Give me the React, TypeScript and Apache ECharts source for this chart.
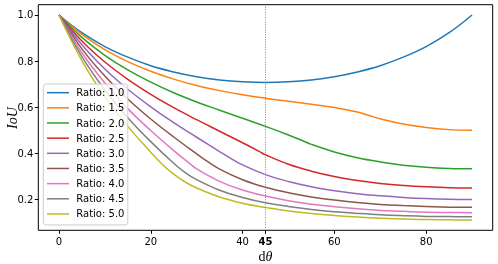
import React, { useEffect, useRef } from 'react';
import * as echarts from 'echarts';

const ratioNames = ['Ratio: 1.0', 'Ratio: 1.5', 'Ratio: 2.0', 'Ratio: 2.5', 'Ratio: 3.0', 'Ratio: 3.5', 'Ratio: 4.0', 'Ratio: 4.5', 'Ratio: 5.0'];
const colors = ['#1f77b4', '#ff7f0e', '#2ca02c', '#d62728', '#9467bd', '#8c564b', '#e377c2', '#7f7f7f', '#bcbd22'];

const ratio10 = [[0, 1], [5, 0.923], [10, 0.863], [15, 0.817], [20, 0.780], [25, 0.753], [30, 0.732], [35, 0.718], [40, 0.710], [45, 0.707], [50, 0.710], [55, 0.718], [60, 0.732], [65, 0.753], [70, 0.780], [75, 0.817], [80, 0.863], [85, 0.923], [90, 1]];
const ratio15 = [[0, 1], [5, 0.916], [10, 0.850], [15, 0.798], [20, 0.756], [25, 0.722], [30, 0.694], [35, 0.672], [40, 0.654], [45, 0.639], [50, 0.626], [55, 0.613], [60, 0.599], [65, 0.579], [67.4, 0.565], [70, 0.550], [75, 0.527], [80, 0.512], [85, 0.503], [90, 0.5]];
const ratio20 = [[0, 1], [5, 0.903], [10, 0.825], [15, 0.762], [20, 0.709], [25, 0.663], [30, 0.623], [35, 0.587], [40, 0.552], [45, 0.517], [50, 0.480], [53.1, 0.455], [55, 0.439], [60, 0.406], [65, 0.381], [70, 0.363], [75, 0.349], [80, 0.340], [85, 0.335], [90, 0.333]];
const ratio25 = [[0, 1], [5, 0.887], [10, 0.796], [15, 0.721], [20, 0.656], [25, 0.598], [30, 0.546], [35, 0.496], [40, 0.446], [43.6, 0.409], [45, 0.394], [50, 0.353], [55, 0.323], [60, 0.300], [65, 0.283], [70, 0.270], [75, 0.261], [80, 0.255], [85, 0.251], [90, 0.25]];
const ratio30 = [[0, 1], [5, 0.871], [10, 0.766], [15, 0.678], [20, 0.602], [25, 0.533], [30, 0.470], [35, 0.408], [36.9, 0.385], [40, 0.350], [45, 0.308], [50, 0.278], [55, 0.255], [60, 0.238], [65, 0.225], [70, 0.216], [75, 0.209], [80, 0.204], [85, 0.201], [90, 0.2]];
const ratio35 = [[0, 1], [5, 0.853], [10, 0.735], [15, 0.636], [20, 0.549], [25, 0.471], [30, 0.398], [31.9, 0.371], [35, 0.332], [40, 0.286], [45, 0.253], [50, 0.229], [55, 0.211], [60, 0.198], [65, 0.187], [70, 0.179], [75, 0.174], [80, 0.170], [85, 0.167], [90, 0.167]];
const ratio40 = [[0, 1], [5, 0.836], [10, 0.705], [15, 0.594], [20, 0.499], [25, 0.412], [28.1, 0.362], [30, 0.333], [35, 0.279], [40, 0.241], [45, 0.215], [50, 0.195], [55, 0.180], [60, 0.169], [65, 0.160], [70, 0.153], [75, 0.149], [80, 0.145], [85, 0.144], [90, 0.143]];
const ratio45 = [[0, 1], [5, 0.819], [10, 0.675], [15, 0.555], [20, 0.451], [25, 0.357], [27.5, 0.317], [30, 0.286], [35, 0.240], [40, 0.209], [45, 0.186], [50, 0.170], [55, 0.157], [60, 0.147], [65, 0.140], [70, 0.134], [75, 0.130], [80, 0.127], [85, 0.126], [90, 0.125]];
const ratio50 = [[0, 1], [5, 0.802], [10, 0.645], [15, 0.517], [20, 0.405], [22.6, 0.351], [25, 0.310], [27.5, 0.276], [30, 0.25], [35, 0.211], [40, 0.184], [45, 0.165], [50, 0.150], [55, 0.139], [60, 0.131], [65, 0.124], [70, 0.119], [75, 0.116], [80, 0.113], [85, 0.112], [90, 0.111]];

const seriesData = [ratio10, ratio15, ratio20, ratio25, ratio30, ratio35, ratio40, ratio45, ratio50];
const xTicks = [0, 20, 40, 45, 60, 80];
const yTicks = [0.2, 0.4, 0.6, 0.8, 1.0];
const markedAngle = 45;

export default function App() {
  const ref = useRef<HTMLDivElement>(null);
  useEffect(() => {
    if (!ref.current) return;
    const chart = echarts.init(ref.current, undefined, { renderer: 'svg' });
    const font = 'DejaVu Sans';
    chart.setOption({
      animation: false,
      grid: {
        left: 38.3, top: 4.7, width: 454.4, height: 225.6,
        show: true, borderColor: '#000', borderWidth: 1, backgroundColor: 'transparent',
      },
      xAxis: {
        type: 'value', min: -4.5, max: 94.5,
        axisLine: { show: false, onZero: false },
        splitLine: { show: false },
        axisTick: { show: true, customValues: xTicks, length: 3.5, lineStyle: { color: '#000', width: 1 } },
        axisLabel: {
          show: true, customValues: xTicks, margin: 6, fontFamily: font, fontSize: 10, color: '#000',
          formatter: (v: number) => (v === 45 ? '{b|45}' : String(v)),
          rich: { b: { fontWeight: 'bold', fontFamily: font, fontSize: 10, color: '#000' } },
        },
      },
      yAxis: {
        type: 'value', min: 0.066667, max: 1.044444,
        axisLine: { show: false, onZero: false },
        splitLine: { show: false },
        axisTick: { show: true, customValues: yTicks, length: 3.5, lineStyle: { color: '#000', width: 1 } },
        axisLabel: {
          show: true, customValues: yTicks, margin: 5, fontFamily: font, fontSize: 10, color: '#000',
          formatter: (v: number) => v.toFixed(1),
        },
      },
      legend: {
        orient: 'vertical', left: 43.3, top: 84,
        icon: 'rect',
        itemWidth: 22, itemHeight: 1.5, itemGap: 0,
        padding: [1.1, 3.4, 3.4, 3.7],
        backgroundColor: 'rgba(255,255,255,0.8)', borderColor: '#cccccc', borderWidth: 1, borderRadius: 3,
        textStyle: { fontFamily: font, fontSize: 10, color: '#000', lineHeight: 15.16, padding: [0, 0, 0, 2.3] },
        data: ratioNames,
      },
      graphic: [
        {
          type: 'text', x: 12, y: 118, rotation: Math.PI / 2,
          style: { text: 'IoU', fontFamily: 'Liberation Serif', fontStyle: 'italic', fontSize: 14, fill: '#000', align: 'center', verticalAlign: 'middle' },
        },
        {
          type: 'text', x: 265.5, y: 256,
          style: {
            text: '{d|d}{t|θ}', fontFamily: 'Liberation Serif', fontSize: 14, fill: '#000', align: 'center', verticalAlign: 'middle',
            rich: { d: { fontFamily: 'Liberation Serif', fontSize: 14, fontStyle: 'normal' }, t: { fontFamily: 'Liberation Serif', fontSize: 14, fontStyle: 'italic' } },
          },
        },
      ],
      series: seriesData.map((d, i) => ({
        name: ratioNames[i],
        type: 'line',
        data: d,
        symbol: 'none',
        showSymbol: false,
        smooth: 0.4,
        color: colors[i],
        lineStyle: { color: colors[i], width: 1.5 },
        markLine: i === 0 ? {
          silent: true, symbol: ['none', 'none'], label: { show: false },
          lineStyle: { color: '#808080', type: [1, 1.5], width: 1 },
          data: [{ xAxis: markedAngle }],
        } : undefined,
      })),
    });
    return () => chart.dispose();
  }, []);
  return <div ref={ref} style={{ position: 'fixed', left: 0, top: 0, width: 498, height: 264 }} />;
}
